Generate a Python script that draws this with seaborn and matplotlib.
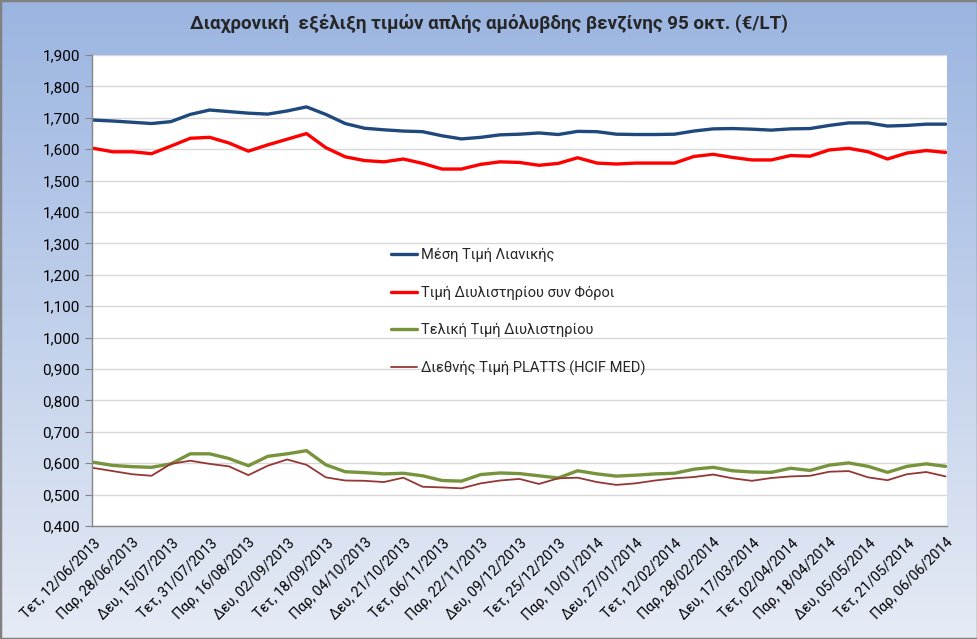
import numpy as np
import pandas as pd
import matplotlib
matplotlib.use('Agg')
import matplotlib.pyplot as plt
import matplotlib.transforms as mtrans
import seaborn as sns
from matplotlib.colors import LinearSegmentedColormap
from matplotlib.patches import Rectangle
from matplotlib.ticker import FuncFormatter

# daily quotes, Mon-Sat (no Sundays), 12/06/2013 .. 06/06/2014
all_days = pd.date_range('2013-06-12', '2014-06-06')
days = all_days[all_days.dayofweek != 6]
gr_days = ['Δευ', 'Τρι', 'Τετ', 'Πεμ', 'Παρ', 'Σαβ', 'Κυρ']

# values read every 7th quote
sample_idx = np.arange(0, len(days), 7)

retail = [1.693, 1.690, 1.686, 1.682, 1.688, 1.711, 1.725, 1.720, 1.715, 1.712, 1.722, 1.735, 1.711, 1.682, 1.667,
          1.662, 1.658, 1.656, 1.643, 1.633, 1.638, 1.646, 1.648, 1.652, 1.647, 1.657, 1.656, 1.648, 1.647, 1.647,
          1.648, 1.658, 1.665, 1.666, 1.664, 1.661, 1.665, 1.666, 1.676, 1.684, 1.684, 1.674, 1.676, 1.680, 1.680]
refinery_tax = [1.603, 1.592, 1.592, 1.586, 1.610, 1.635, 1.638, 1.620, 1.594, 1.614, 1.632, 1.650, 1.605, 1.576, 1.564,
                1.560, 1.569, 1.555, 1.537, 1.537, 1.552, 1.560, 1.558, 1.549, 1.555, 1.573, 1.556, 1.553, 1.556, 1.556,
                1.556, 1.577, 1.584, 1.574, 1.566, 1.566, 1.580, 1.578, 1.598, 1.603, 1.592, 1.569, 1.588, 1.596, 1.590]
refinery = [0.603, 0.593, 0.589, 0.587, 0.598, 0.630, 0.630, 0.615, 0.592, 0.622, 0.630, 0.640, 0.595, 0.573, 0.570,
            0.566, 0.568, 0.560, 0.545, 0.543, 0.564, 0.569, 0.567, 0.560, 0.553, 0.576, 0.566, 0.559, 0.562, 0.566,
            0.568, 0.581, 0.587, 0.576, 0.572, 0.571, 0.584, 0.577, 0.594, 0.601, 0.590, 0.571, 0.590, 0.598, 0.590]
platts = [0.585, 0.575, 0.565, 0.560, 0.598, 0.608, 0.598, 0.590, 0.562, 0.592, 0.612, 0.595, 0.555, 0.545, 0.544,
          0.540, 0.554, 0.525, 0.523, 0.520, 0.536, 0.545, 0.550, 0.534, 0.552, 0.554, 0.540, 0.531, 0.536, 0.545,
          0.552, 0.556, 0.564, 0.552, 0.544, 0.553, 0.558, 0.560, 0.573, 0.575, 0.555, 0.546, 0.565, 0.572, 0.558]

series = [
    ('Μέση Τιμή Λιανικής', retail, '#1F497D', 2.4),
    ('Τιμή Διυλιστηρίου συν Φόροι', refinery_tax, '#FF0000', 2.4),
    ('Τελική Τιμή Διυλιστηρίου', refinery, '#77933C', 2.4),
    ('Διεθνής Τιμή PLATTS (HCIF MED)', platts, '#953735', 1.3),
]

sns.set_style('white')
plt.rcParams['font.family'] = ['Roboto', 'DejaVu Sans']

fig = plt.figure(figsize=(9.78, 6.39), dpi=100)

# gradient background of the chart area
bg = fig.add_axes([0, 0, 1, 1], zorder=0)
bg.axis('off')
cmap = LinearSegmentedColormap.from_list('bg', ['#9BB5E1', '#E6EBF5'])
bg.imshow(np.linspace(0, 1, 256).reshape(-1, 1), aspect='auto', cmap=cmap,
          extent=[0, 1, 0, 1], origin='upper')
bg.add_patch(Rectangle((0, 0), 1, 1, transform=bg.transAxes, fill=False, ec='#808080', lw=2.5))

ax = fig.add_axes([0.0941, 0.1768, 0.8742, 0.737], zorder=1)
ax.set_facecolor('white')

for name, vals, col, lw in series:
    sns.lineplot(x=sample_idx, y=vals, ax=ax, color=col, linewidth=lw, label=name)

ax.set_xlim(-0.5, len(days) - 0.5)
ax.set_ylim(0.4, 1.9)
ax.set_yticks(np.arange(0.4, 1.901, 0.1))
ax.yaxis.set_major_formatter(FuncFormatter(lambda v, p: f'{v:.3f}'.replace('.', ',')))

lab_idx = np.arange(0, len(days), 14)
ax.set_xticks(lab_idx)
ax.set_xticklabels([f'{gr_days[days[i].dayofweek]}, {days[i]:%d/%m/%Y}' for i in lab_idx],
                   rotation=45, ha='right', rotation_mode='anchor', fontsize=10.3)
shift = mtrans.ScaledTranslation(15 / 100, -4 / 100, fig.dpi_scale_trans)
for t in ax.get_xticklabels():
    t.set_transform(t.get_transform() + shift)
ax.set_xticks(np.arange(len(days)), minor=True)
ax.tick_params(axis='x', which='both', direction='out', length=4, color='#868686', width=0.8, pad=3)
ax.tick_params(axis='y', direction='out', length=5, color='#868686', width=0.8, labelsize=11, left=True)
ax.tick_params(axis='both', labelcolor='black')

ax.yaxis.grid(True, color='#D9D9D9', lw=1)
ax.set_axisbelow(True)
for s in ['top', 'right']:
    ax.spines[s].set_visible(False)
for s in ['left', 'bottom']:
    ax.spines[s].set_color('#868686')
    ax.spines[s].set_linewidth(1)
ax.set_xlabel('')
ax.set_ylabel('')

ax.legend(loc='upper left', bbox_to_anchor=(378 / 978, 1 - 235 / 639), bbox_transform=fig.transFigure,
          frameon=False, fontsize=10.5, labelspacing=1.6, handlelength=1.8, handletextpad=0.25)

fig.text(0.5, 1 - 23 / 639, 'Διαχρονική  εξέλιξη τιμών απλής αμόλυβδης βενζίνης 95 οκτ. (€/LT)',
         ha='center', va='center', fontsize=13.5, fontweight='bold')

fig.savefig('out.png', dpi=100)
